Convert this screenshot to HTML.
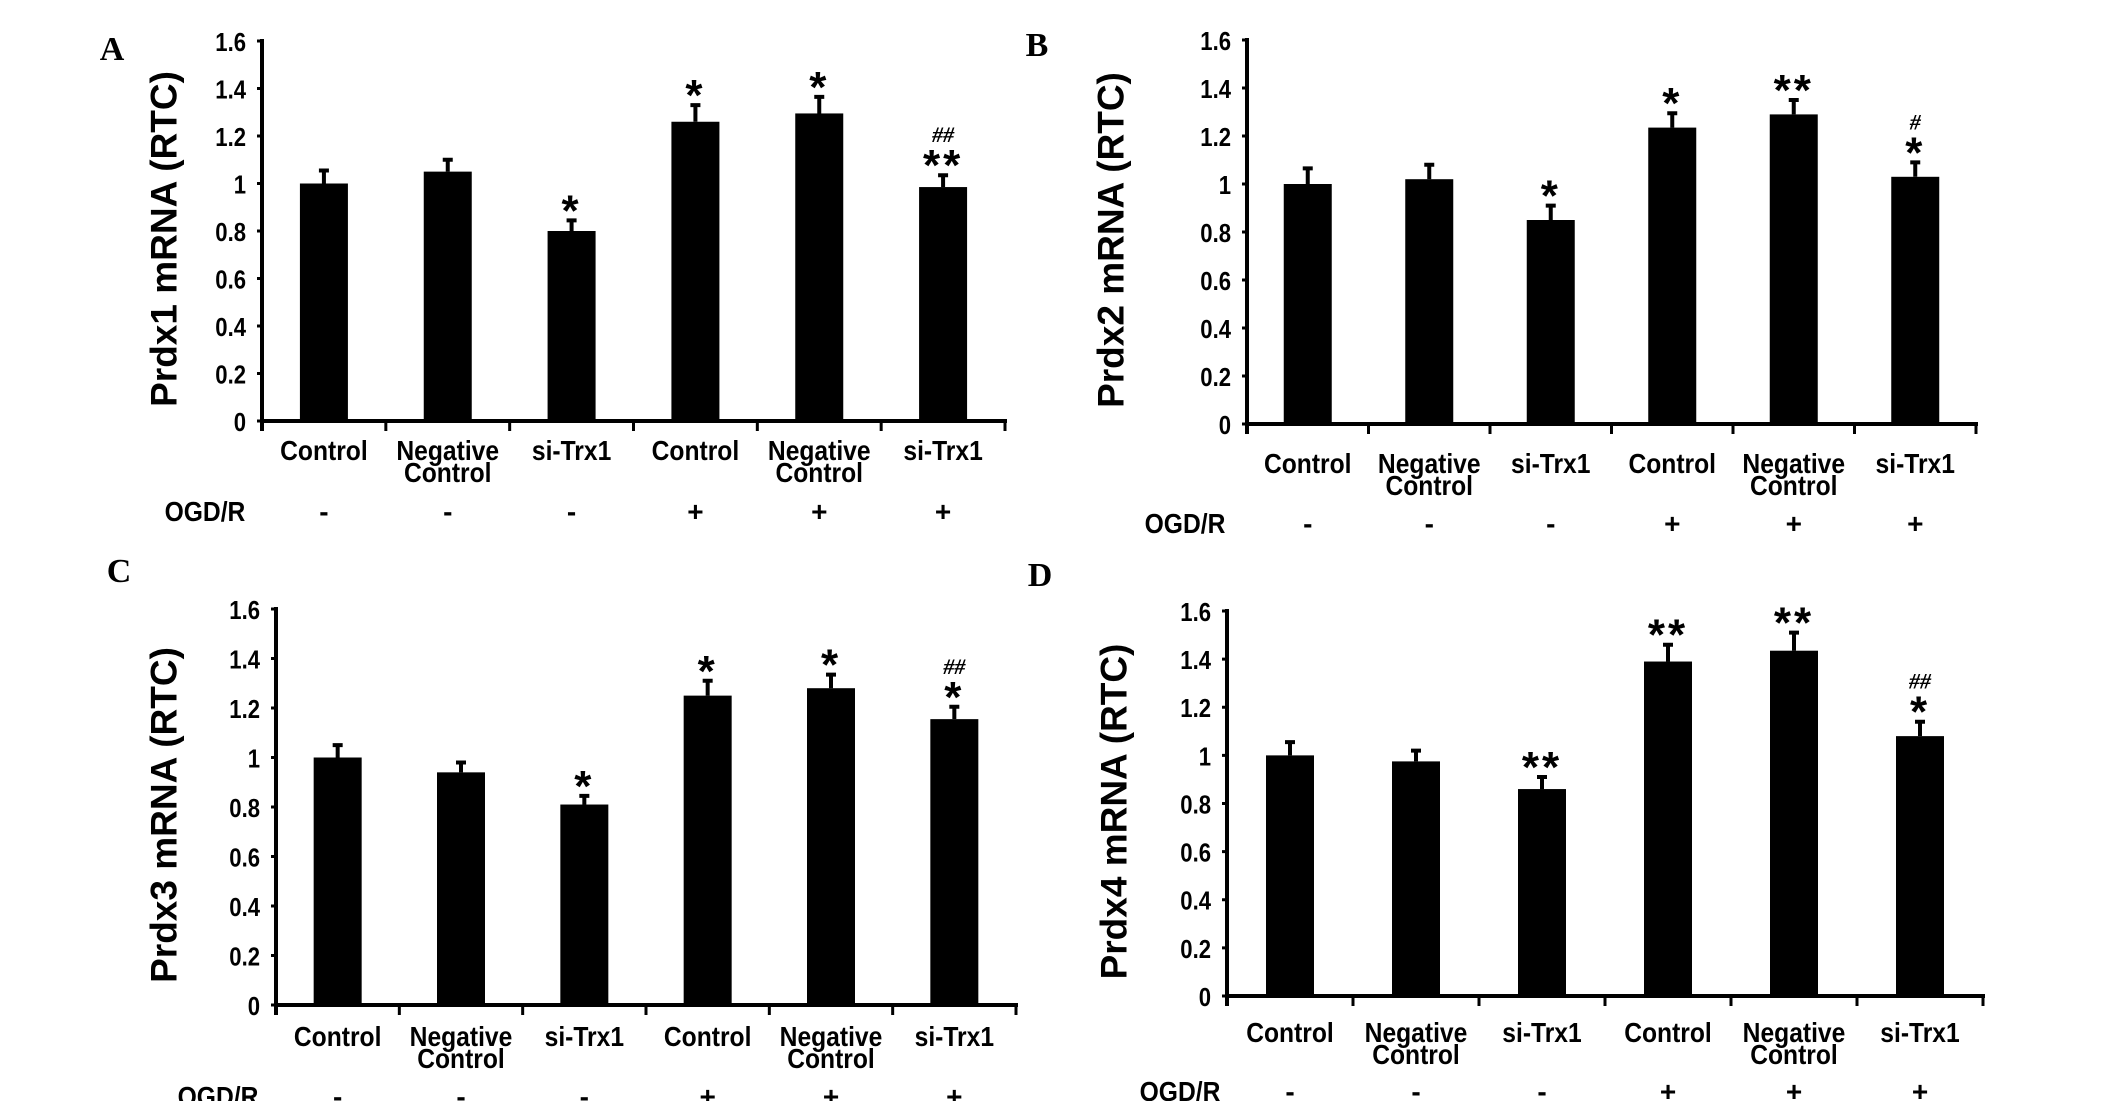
<!DOCTYPE html>
<html><head><meta charset="utf-8">
<style>
html,body{margin:0;padding:0;background:#fff;}
svg{display:block;}
text{font-family:"Liberation Sans",Arial,sans-serif;font-weight:bold;fill:#000;}
.tick{font-size:26px;}
.cat{font-size:28px;}
.title{font-size:37px;}
.panel-letter{font-family:"Liberation Serif",serif;font-size:34px;}
.sig{font-size:44px;}
.hash{font-family:"Liberation Serif",serif;font-size:22px;font-style:italic;}
</style></head>
<body>
<svg id="fig" width="2126" height="1101" viewBox="0 0 2126 1101"></svg>
<script>
const categories = [["Control"],["Negative","Control"],["si-Trx1"],["Control"],["Negative","Control"],["si-Trx1"]];
const ogdSigns = ["-","-","-","+","+","+"];
const yTicks = [0,0.2,0.4,0.6,0.8,1,1.2,1.4,1.6];
const yTickLabels = ["0","0.2","0.4","0.6","0.8","1","1.2","1.4","1.6"];

const valuesA = [1.0,1.05,0.8,1.26,1.295,0.985];
const errTopA = [1.055,1.10,0.845,1.33,1.365,1.035];
const starsA = ["","","*","*","*","**"];
const hashA = ["","","","","","##"];

const valuesB = [1.0,1.02,0.85,1.235,1.29,1.03];
const errTopB = [1.065,1.08,0.91,1.295,1.35,1.09];
const starsB = ["","","*","*","**","*"];
const hashB = ["","","","","","#"];

const valuesC = [1.0,0.94,0.81,1.25,1.28,1.155];
const errTopC = [1.05,0.98,0.845,1.31,1.335,1.205];
const starsC = ["","","*","*","*","*"];
const hashC = ["","","","","","##"];

const valuesD = [1.0,0.975,0.86,1.39,1.435,1.08];
const errTopD = [1.055,1.02,0.91,1.46,1.51,1.14];
const starsD = ["","","**","**","**","*"];
const hashD = ["","","","","","##"];

const svg = document.getElementById('fig');
const NS = 'http://www.w3.org/2000/svg';
function mk(tag, attrs, parent){
  const e = document.createElementNS(NS, tag);
  for (const k in attrs) e.setAttribute(k, attrs[k]);
  parent.appendChild(e);
  return e;
}

const layouts = [
  {id:'a', letter:'A', lx:112, ly:60, ax:262, right:1005, y0:421, y1:41, titleX:164, catY:450, ogdY:511, ogdX:205, title:'Prdx1 mRNA (RTC)', vals:valuesA, errs:errTopA, stars:starsA, hashes:hashA},
  {id:'b', letter:'B', lx:1037, ly:56, ax:1247, right:1976, y0:424, y1:40, titleX:1111, catY:463, ogdY:523, ogdX:1185, title:'Prdx2 mRNA (RTC)', vals:valuesB, errs:errTopB, stars:starsB, hashes:hashB},
  {id:'c', letter:'C', lx:119, ly:582, ax:276, right:1016, y0:1005, y1:609, titleX:164, catY:1036, ogdY:1096, ogdX:218, title:'Prdx3 mRNA (RTC)', vals:valuesC, errs:errTopC, stars:starsC, hashes:hashC},
  {id:'d', letter:'D', lx:1040, ly:586, ax:1227, right:1983, y0:996, y1:611, titleX:1114, catY:1032, ogdY:1091, ogdX:1180, title:'Prdx4 mRNA (RTC)', vals:valuesD, errs:errTopD, stars:starsD, hashes:hashD}
];

layouts.forEach(L => {
  const g = mk('g', {}, svg);
  
  
  const yScale = v => L.y0 - (v / 1.6) * (L.y0 - L.y1);
  const cw = (L.right - L.ax) / categories.length;
  const xCenter = i => L.ax + cw * (i + 0.5);

  const letter = mk('text', {x:L.lx, y:L.ly, 'text-anchor':'middle', class:'panel-letter'}, g);
  letter.textContent = L.letter;
  
  

  const my = (L.y0 + L.y1)/2 + 8;
  const t = mk('text', {x:L.titleX, y:my, 'text-anchor':'middle', 'dominant-baseline':'central', class:'title', transform:`rotate(-90 ${L.titleX} ${my})`}, g);
  t.textContent = L.title;
  
  

  L.vals.forEach((v, i) => {
    const bw = 48;
    const bar = mk('rect', {x:xCenter(i) - bw/2, y:yScale(v), width:bw, height:L.y0 - yScale(v), fill:'#000'}, g);
    
    
    const ey = yScale(L.errs[i]);
    const eb = mk('path', {d:`M${xCenter(i)} ${yScale(v)} V${ey} M${xCenter(i)-5} ${ey} H${xCenter(i)+5}`, stroke:'#000', 'stroke-width':4, fill:'none'}, g);
    
    
    let hashBase = ey - 14;
    if (L.stars[i]) {
      const s = mk('text', {x:xCenter(i), y:ey + 5, 'text-anchor':'middle', class:'sig', 'letter-spacing':'3'}, g);
      s.textContent = L.stars[i];
      
      
      hashBase = ey - 33;
    }
    if (L.hashes[i]) {
      const h = mk('text', {x:xCenter(i), y:hashBase, 'text-anchor':'middle', class:'hash'}, g);
      h.textContent = L.hashes[i];
      
      
    }
  });

  const yAxis = mk('line', {x1:L.ax, y1:L.y1 - 2, x2:L.ax, y2:L.y0 + 10, stroke:'#000', 'stroke-width':4}, g);
  
  
  const xAxis = mk('line', {x1:L.ax, y1:L.y0, x2:L.right + 2, y2:L.y0, stroke:'#000', 'stroke-width':4}, g);
  
  
  for (let i = 0; i <= categories.length; i++) {
    const tx = L.ax + cw * i;
    mk('line', {x1:tx, y1:L.y0, x2:tx, y2:L.y0 + 10, stroke:'#000', 'stroke-width':3}, g);
  }
  yTicks.forEach((v, i) => {
    mk('line', {x1:L.ax - 5, y1:yScale(v), x2:L.ax, y2:yScale(v), stroke:'#000', 'stroke-width':3}, g);
    const tl = mk('text', {x:L.ax - 16, y:yScale(v) + 10, 'text-anchor':'end', class:'tick', transform:`translate(${(L.ax-16)*0.15} 0) scale(0.85 1)`}, g);
    tl.textContent = yTickLabels[i];
    
    
  });

  categories.forEach((lines, i) => {
    const cx = xCenter(i);
    lines.forEach((ln, j) => {
      const ct = mk('text', {x:cx, y:L.catY + 10 + j * 22, 'text-anchor':'middle', class:'cat', transform:`translate(${cx*0.12} 0) scale(0.88 1)`}, g);
      ct.textContent = ln;
      
      
    });
    const sg = mk('text', {x:cx, y:L.ogdY + 10, 'text-anchor':'middle', class:'cat'}, g);
    sg.textContent = ogdSigns[i];
    
    
  });
  const og = mk('text', {x:L.ogdX, y:L.ogdY + 10, 'text-anchor':'middle', class:'cat', transform:`translate(${L.ogdX*0.12} 0) scale(0.88 1)`}, g);
  og.textContent = 'OGD/R';
  
  
});
</script>
</body></html>
